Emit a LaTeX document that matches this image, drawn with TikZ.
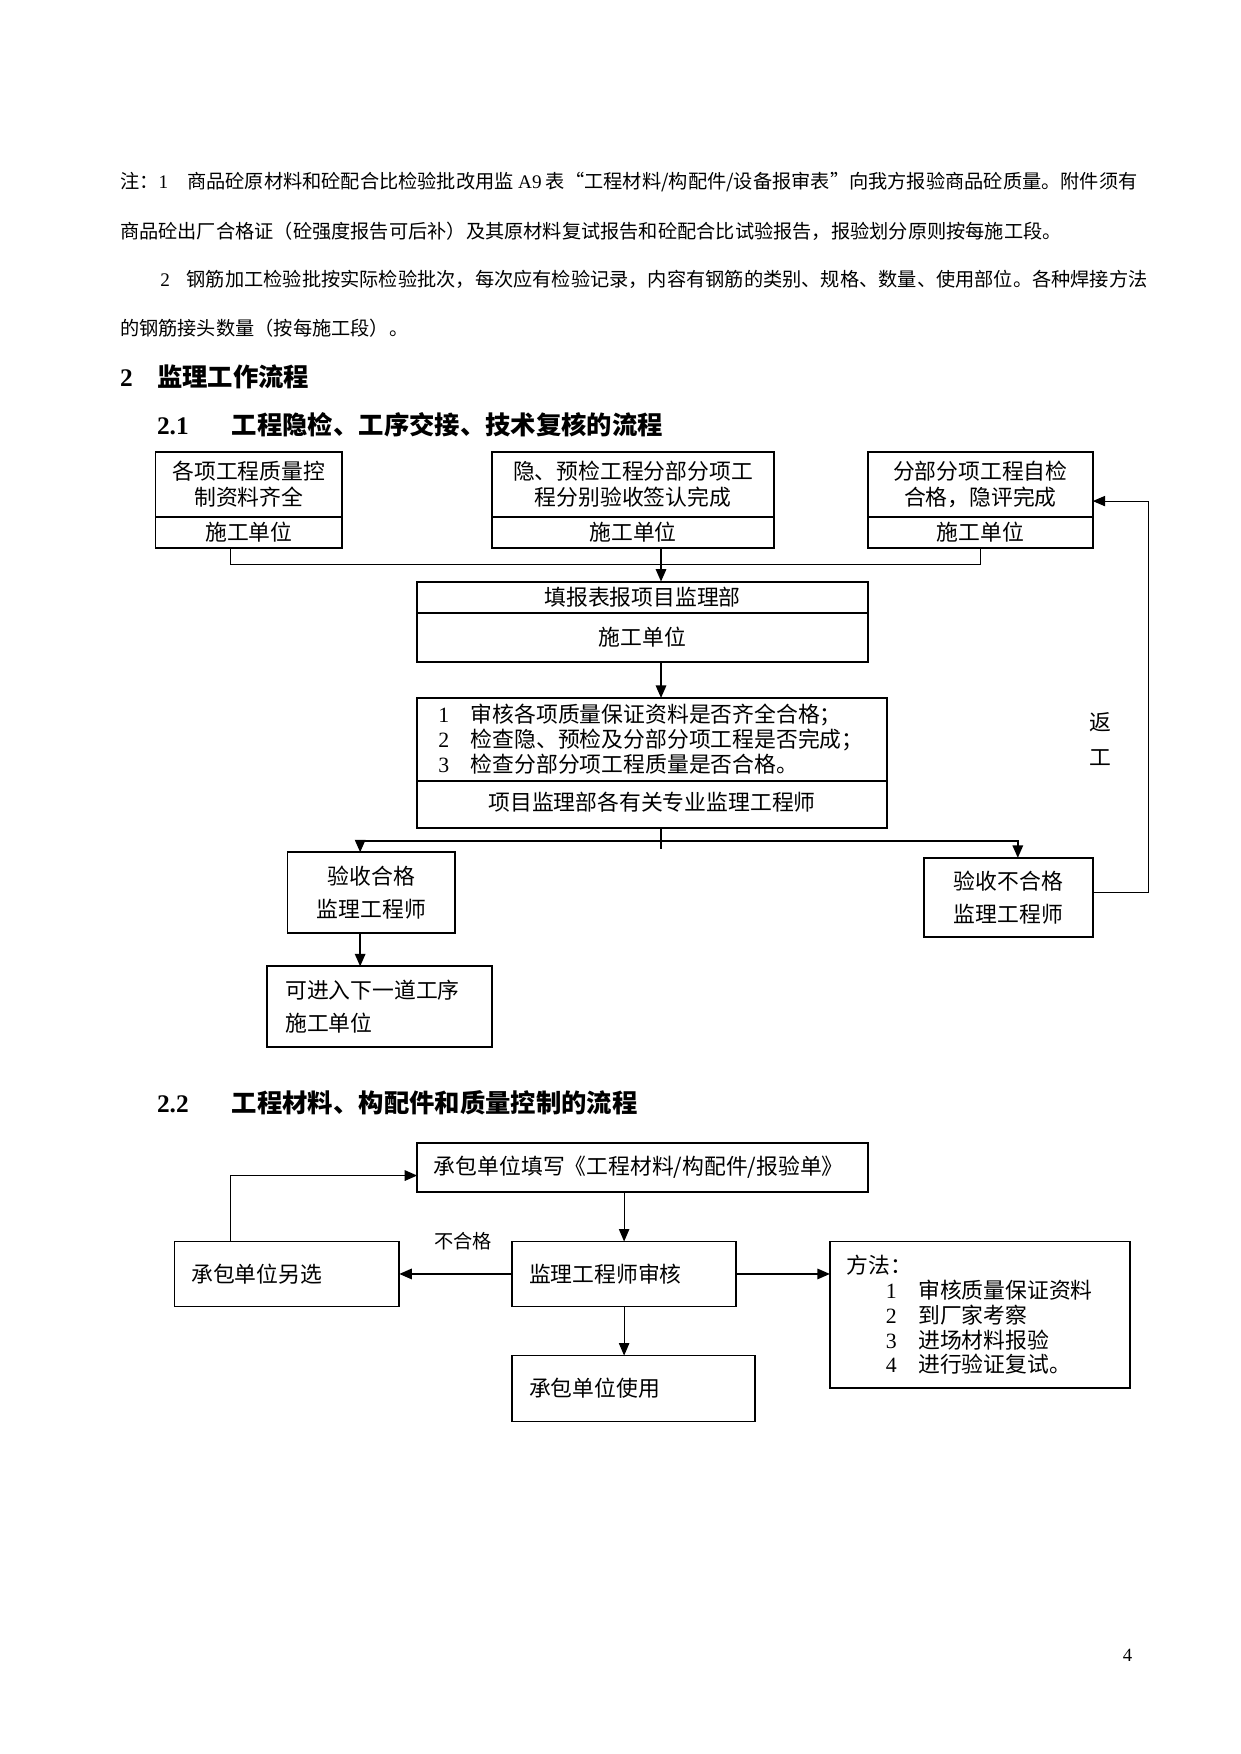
\documentclass[tikz,border=0pt]{standalone}
\usepackage{fontspec}
\setmainfont{Noto Sans CJK SC}
\newfontfamily\numfont{Liberation Serif}
\usetikzlibrary{arrows.meta,positioning,calc}

\newlength\unitpx
\setlength\unitpx{0.018927cm}
\newcommand\dig[1]{{\numfont #1}}
\newcommand\bodyfont{\fontsize{9.25}{11}\selectfont}
\newcommand\boxfont{\fontsize{10.5}{12.3}\selectfont}
\newcommand\headfont{\fontsize{12.2}{14}\selectfont\bfseries}

\begin{document}
\begin{tikzpicture}[x=\unitpx, y=-\unitpx]

% Define styles
\tikzstyle{part} = [rectangle, draw=black, line width=0.85pt, inner sep=0pt, outer sep=0pt, align=center, font=\boxfont]
\tikzstyle{tall} = [part, font=\fontsize{10.5}{16}\selectfont]
\tikzstyle{para} = [anchor=west, inner sep=0pt, font=\bodyfont]
\tikzstyle{heading} = [anchor=west, inner sep=0pt, font=\headfont]
\tikzstyle{line} = [line width=0.5pt]
\tikzstyle{arrow} = [line width=0.85pt, -{Triangle[length=6pt,width=5pt]}]
\tikzstyle{thinarrow} = [line width=0.5pt, -{Triangle[length=6pt,width=5pt]}]

\useasboundingbox (0,0) rectangle (1109.5,1568.2);

% Notes
\node (note1) [para] at (107,163) {注：\dig{1}\hspace*{17\unitpx}商品砼原材料和砼配合比检验批改用监 \dig{A9} 表“工程材料/构配件/设备报审表”向我方报验商品砼质量。附件须有};
\node (note2) [para] at (107,207) {商品砼出厂合格证（砼强度报告可后补）及其原材料复试报告和砼配合比试验报告，报验划分原则按每施工段。};
\node (note3) [para] at (143,250) {\dig{2}\hspace*{15\unitpx}钢筋加工检验批按实际检验批次，每次应有检验记录，内容有钢筋的类别、规格、数量、使用部位。各种焊接方法};
\node (note4) [para] at (107,293) {的钢筋接头数量（按每施工段）。};

% Headings
\node (sec2) [heading] at (107,337) {\makebox[33\unitpx][l]{\dig{2}}监理工作流程};
\node (sec21) [heading] at (140,380) {\makebox[67\unitpx][l]{\dig{2.1}}工程隐检、工序交接、技术复核的流程};

% Top row
\node (qa) [part, minimum width=167\unitpx, minimum height=58\unitpx] at (222.5,433) {各项工程质量控\\制资料齐全};
\node (qa-u) [part, below=0pt of qa, minimum width=167\unitpx, minimum height=28\unitpx] {施工单位};
\node (qb) [part, minimum width=252\unitpx, minimum height=58\unitpx] at (566,433) {隐、预检工程分部分项工\\程分别验收签认完成};
\node (qb-u) [part, below=0pt of qb, minimum width=252\unitpx, minimum height=28\unitpx] {施工单位};
\node (qc) [part, minimum width=201\unitpx, minimum height=58\unitpx] at (876.5,433) {分部分项工程自检\\合格，隐评完成};
\node (qc-u) [part, below=0pt of qc, minimum width=201\unitpx, minimum height=28\unitpx] {施工单位};

% Report and check
\node (report) [part, minimum width=403\unitpx, minimum height=28\unitpx] at (574.5,534) {填报表报项目监理部};
\node (report-u) [part, below=0pt of report, minimum width=403\unitpx, minimum height=44\unitpx] {\raisebox{3\unitpx}{施工单位}};
\node (check) [part, align=left, text width=382\unitpx, minimum width=420\unitpx, minimum height=74\unitpx, font=\fontsize{10.5}{12}\selectfont] at (583,661) {\makebox[29\unitpx][l]{\dig{1}}审核各项质量保证资料是否齐全合格；\\\makebox[29\unitpx][l]{\dig{2}}检查隐、预检及分部分项工程是否完成；\\\makebox[29\unitpx][l]{\dig{3}}检查分部分项工程质量是否合格。};
\node (check-u) [part, below=0pt of check, minimum width=420\unitpx, minimum height=42\unitpx] {\raisebox{5\unitpx}{项目监理部各有关专业监理工程师}};

% Results
\node (pass) [tall, minimum width=150\unitpx, minimum height=72\unitpx] at (332,798) {验收合格\\监理工程师};
\node (fail) [tall, minimum width=151\unitpx, minimum height=71\unitpx] at (901.5,802.5) {验收不合格\\监理工程师};
\node (next) [tall, align=left, text width=169\unitpx, minimum width=201\unitpx, minimum height=72\unitpx] at (339.5,900) {可进入下一道工序\\施工单位};
\node (rework) [inner sep=0pt, align=center, font=\fontsize{10.5}{17}\selectfont] at (984,661) {返\\工};

% Connections 2.1
\coordinate (spine) at (591,0);
\coordinate (split) at (591,752);
\draw [line] ([xshift=-16.5\unitpx]qa-u.south) -- ++(0,15) -| (qc-u.south);
\draw [arrow] (qb-u.south -| spine) -- (report.north -| spine);
\draw [arrow] (report-u.south -| spine) -- (check.north -| spine);
\draw [line width=0.85pt] (check-u.south -| spine) -- ++(0,19);
\draw [arrow] (split) -| ([xshift=-10\unitpx]pass.north);
\draw [arrow] (split) -| ([xshift=8.5\unitpx]fail.north);
\draw [arrow] ([xshift=-10\unitpx]pass.south) -- ([xshift=-10\unitpx]pass.south |- next.north);
\draw [thinarrow] ([yshift=4.5\unitpx]fail.east) -- ++(50,0) |- ([yshift=-15\unitpx]qc.east);

% Section 2.2
\node (sec22) [heading] at (140,986) {\makebox[67\unitpx][l]{\dig{2.2}}工程材料、构配件和质量控制的流程};
\node (apply) [part, align=left, text width=373\unitpx, minimum width=403\unitpx, minimum height=44\unitpx] at (574.5,1044) {承包单位填写《工程材料/构配件/报验单》};
\node (review) [part, align=left, text width=170\unitpx, minimum width=200\unitpx, minimum height=58\unitpx] at (558,1139) {监理工程师审核};
\node (alt) [part, align=left, text width=171\unitpx, minimum width=201\unitpx, minimum height=58\unitpx] at (256.5,1139) {承包单位另选};
\node (use) [part, align=left, text width=187\unitpx, minimum width=217\unitpx, minimum height=59\unitpx] at (566.5,1241.5) {承包单位使用};
\node (method) [part, align=left, text width=238\unitpx, minimum width=268\unitpx, minimum height=131\unitpx, font=\fontsize{10.5}{12}\selectfont] at (876,1175.5) {方法：\\\hspace*{35\unitpx}\makebox[29\unitpx][l]{\dig{1}}审核质量保证资料\\\hspace*{35\unitpx}\makebox[29\unitpx][l]{\dig{2}}到厂家考察\\\hspace*{35\unitpx}\makebox[29\unitpx][l]{\dig{3}}进场材料报验\\\hspace*{35\unitpx}\makebox[29\unitpx][l]{\dig{4}}进行验证复试。};
\node (nopass) [para, anchor=center] at (414,1110) {不合格};

% Connections 2.2
\draw [thinarrow] (apply.south -| review.north) -- (review.north);
\draw [arrow] (review.west) -- (alt.east);
\draw [thinarrow] (review.south) -- (review.south |- use.north);
\draw [arrow] (review.east) -- (review.east -| method.west);
\draw [arrow] ([xshift=-50.5\unitpx]alt.north) |- ([yshift=-7\unitpx]apply.west);

% Page number
\node (pageno) [inner sep=0pt, font=\numfont\fontsize{9}{11}\selectfont] at (1008,1480) {4};

\end{tikzpicture}
\end{document}
